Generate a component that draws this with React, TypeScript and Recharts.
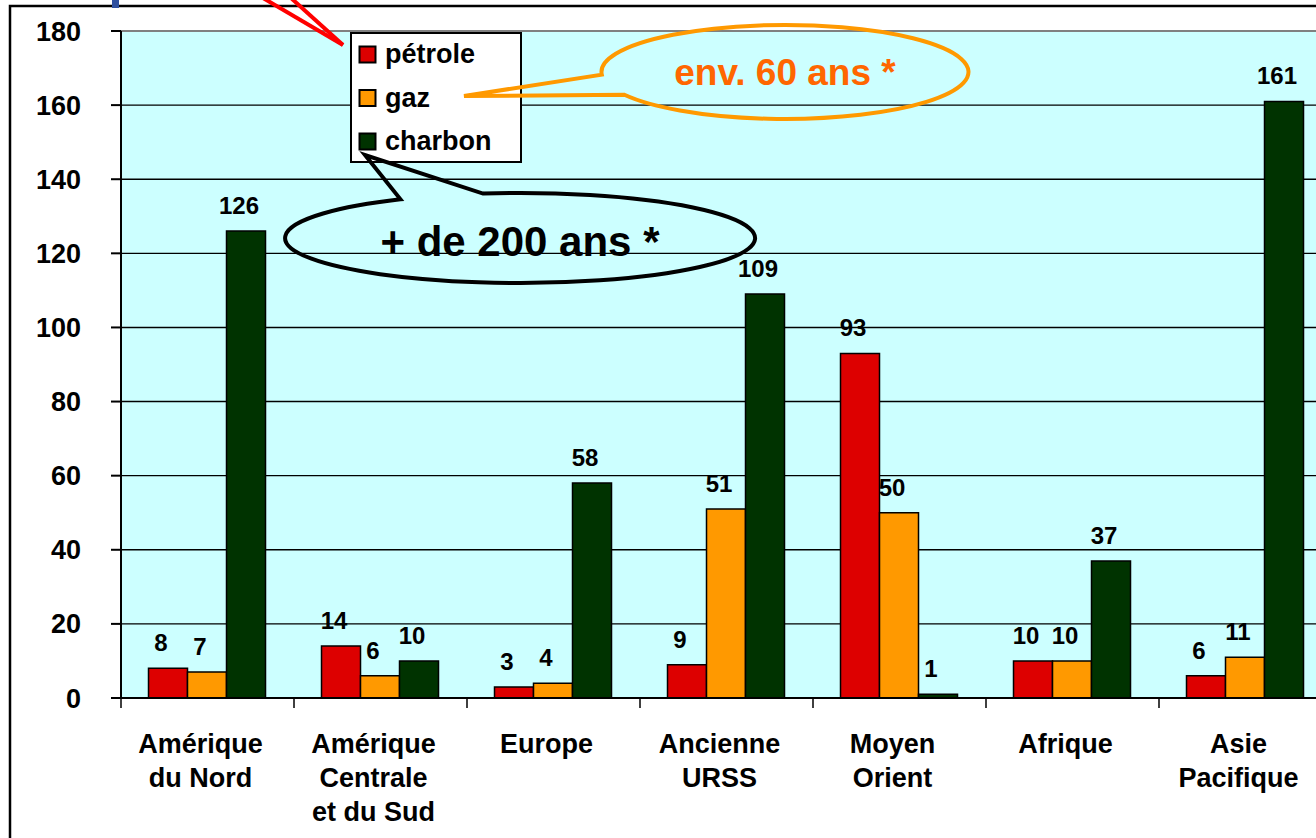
import React from 'react';
import { BarChart, Bar, XAxis, YAxis, CartesianGrid, LabelList, Legend, ReferenceLine } from 'recharts';

const categories = [
  'Amérique\ndu Nord',
  'Amérique\nCentrale\net du Sud',
  'Europe',
  'Ancienne\nURSS',
  'Moyen\nOrient',
  'Afrique',
  'Asie\nPacifique',
];
const petrole = [8, 14, 3, 9, 93, 10, 6];
const gaz = [7, 6, 4, 51, 50, 10, 11];
const charbon = [126, 10, 58, 109, 1, 37, 161];
const yTicks = [0, 20, 40, 60, 80, 100, 120, 140, 160, 180];
const seriesKeys = ['petrole', 'gaz', 'charbon'];
const seriesNames = ['pétrole', 'gaz', 'charbon'];
const seriesColors = ['#DD0000', '#FF9900', '#003300'];
const calloutGaz = 'env. 60 ans *';
const calloutCharbon = '+ de 200 ans *';

const data = categories.map((c, i) => ({
  region: c,
  petrole: petrole[i],
  gaz: gaz[i],
  charbon: charbon[i],
}));

const FONT = '"Liberation Sans", Arial, Helvetica, sans-serif';

const CategoryTick = (props: any) => {
  const { x, y, payload } = props;
  const lines = String(payload.value).split('\n');
  const off = payload.offset ?? 0;
  const tx = x - 7;
  return (
    <g>
      <line x1={x - off} x2={x - off} y1={y} y2={y + 10} stroke="#000" strokeWidth={1.5} />
      <text x={tx} y={y + 55} textAnchor="middle" fontSize={27} fontWeight="bold" fill="#000" fontFamily={FONT}>
        {lines.map((l, i) => (
          <tspan key={i} x={tx} dy={i === 0 ? 0 : 34}>
            {l}
          </tspan>
        ))}
      </text>
    </g>
  );
};

const LegendBox = () => (
  <svg width={172} height={131} style={{ display: 'block' }}>
    <rect x={1} y={1} width={170} height={129} fill="#fff" stroke="#000" strokeWidth={2} />
    {seriesNames.map((n, i) => (
      <g key={n}>
        <rect x={9.5} y={14.5 + i * 43.5} width={16} height={16} fill={seriesColors[i]} stroke="#000" strokeWidth={2} />
        <text x={35} y={31 + i * 43.5} fontSize={27} fontWeight="bold" fill="#000" fontFamily={FONT}>
          {n}
        </text>
      </g>
    ))}
  </svg>
);

export default function App() {
  return (
    <div
      style={{
        position: 'absolute',
        left: 0,
        top: 0,
        width: 1316,
        height: 838,
        overflow: 'hidden',
        background: '#fff',
        fontFamily: FONT,
      }}
    >
      <BarChart
        width={1400}
        height={900}
        data={data}
        margin={{ top: 31, right: 68, bottom: 52, left: 0 }}
        barCategoryGap="15.9%"
        barGap={0}
      >
        <CartesianGrid
          vertical={false}
          stroke="#000"
          strokeWidth={1.4}
          fill="#CCFFFF"
          horizontalValues={[20, 40, 60, 80, 100, 120, 140, 160]}
        />
        <ReferenceLine y={180} stroke="#808080" strokeWidth={2} />
        <XAxis
          dataKey="region"
          interval={0}
          height={150}
          tickSize={0}
          tickMargin={0}
          tickLine={false}
          axisLine={{ stroke: '#000', strokeWidth: 2 }}
          tick={<CategoryTick />}
        />
        <YAxis
          width={121}
          domain={[0, 180]}
          ticks={yTicks}
          interval={0}
          tickSize={10}
          tickMargin={30}
          axisLine={{ stroke: '#000', strokeWidth: 2 }}
          tickLine={{ stroke: '#000', strokeWidth: 2 }}
          tick={{ fontSize: 27, fontWeight: 'bold', fill: '#000', fontFamily: FONT }}
        />
        <Legend
          layout="vertical"
          align="center"
          verticalAlign="middle"
          wrapperStyle={{ position: 'absolute', left: 350, top: 32, width: 172, height: 131 }}
          content={() => <LegendBox />}
        />
        {seriesKeys.map((k, i) => (
          <Bar
            key={k}
            dataKey={k}
            name={seriesNames[i]}
            fill={seriesColors[i]}
            stroke="#000"
            strokeWidth={1.5}
            isAnimationActive={false}
          >
            <LabelList
              dataKey={k}
              position="top"
              offset={17}
              dx={-7}
              fill="#000"
              fontSize={24}
              fontWeight="bold"
              fontFamily={FONT}
            />
          </Bar>
        ))}
      </BarChart>
      <svg
        width={1316}
        height={838}
        style={{ position: 'absolute', left: 0, top: 0, pointerEvents: 'none' }}
      >
        <rect x={10} y={6} width={1400} height={900} fill="none" stroke="#000" strokeWidth={2.5} />
        <rect x={112} y={0} width={7} height={8} fill="#2E4F9E" />
        <line x1={343} y1={45} x2={263} y2={-2} stroke="#FF0000" strokeWidth={4} />
        <line x1={343} y1={45} x2={291} y2={-2} stroke="#FF0000" strokeWidth={4} />
        <path
          d="M 601.8 74.7 A 183.5 47 0 1 1 624.4 94.7 L 464 96 Z"
          fill="none"
          stroke="#FF9900"
          strokeWidth={4}
          strokeLinejoin="miter"
        />
        <text x={785} y={85} textAnchor="middle" fontSize={37} fontWeight="bold" fill="#FF6600" fontFamily={FONT}>
          {calloutGaz}
        </text>
        <path
          d="M 400.5 199.3 A 235 45 0 1 0 483 193.6 L 365 155 Z"
          fill="none"
          stroke="#000"
          strokeWidth={4}
        />
        <text x={520} y={256} textAnchor="middle" fontSize={42} fontWeight="bold" fill="#000" fontFamily={FONT}>
          {calloutCharbon}
        </text>
      </svg>
    </div>
  );
}
